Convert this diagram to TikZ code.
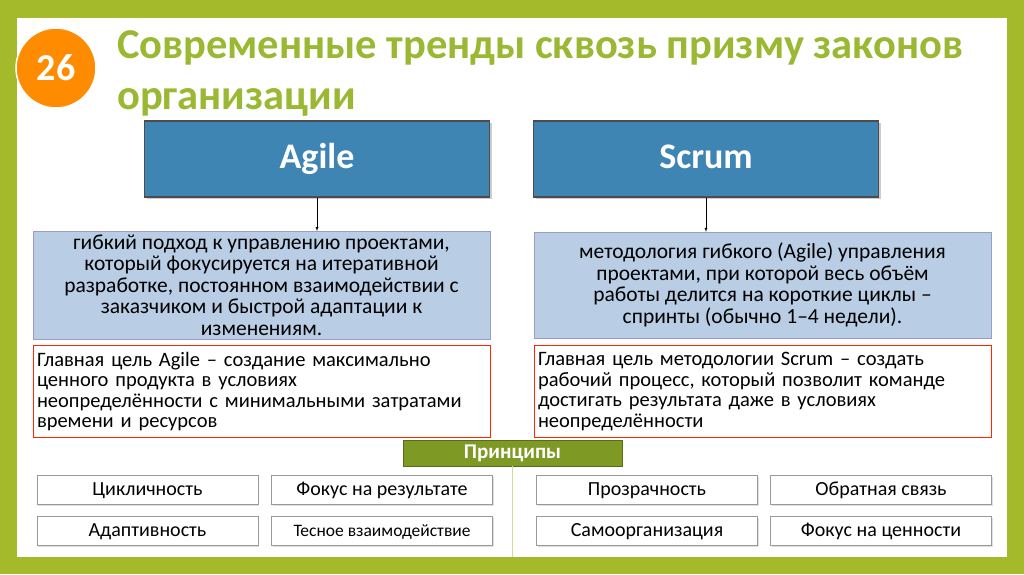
\documentclass[tikz,border=0pt]{standalone}
\usepackage{fontspec}
\setmainfont{Carlito}
\usetikzlibrary{shadows}
\definecolor{olive}{HTML}{A5BA2A}
\definecolor{titlegreen}{HTML}{9AB832}
\definecolor{dblue}{HTML}{3E85B4}
\definecolor{lblue}{HTML}{B9CDE5}
\definecolor{pbox}{HTML}{7E9A24}
\begin{document}
\begin{tikzpicture}[x=1pt,y=-1pt,
  head/.style={draw=black!70,fill=dblue,line width=1.2pt,minimum width=345pt,minimum height=76pt,text=white,font=\bfseries\fontsize{36}{40}\selectfont,text height=26pt,text depth=7pt,drop shadow={opacity=0.4}},
  desc/.style={draw=blue!30!gray!60,fill=lblue,minimum width=457pt,minimum height=106pt,align=center,font=\fontsize{21.5}{21.5}\selectfont},
  goal/.style={draw=red!70!orange,line width=0.8pt,fill=white,minimum width=457pt,minimum height=92pt,text width=449pt,inner xsep=4pt,align=left,font=\fontsize{20.5}{20.5}\selectfont},
  prin/.style={draw=gray!80,line width=0.8pt,fill=white,minimum width=221pt,minimum height=29pt,text height=14pt,text depth=4pt,font=\fontsize{20}{22}\selectfont,drop shadow={opacity=0.25,shadow xshift=1pt,shadow yshift=-1pt}}]
\useasboundingbox (0,0) rectangle (1024,574);
\fill[olive] (0,0) rectangle (1024,574);
\fill[white] (17,18) rectangle (1007,557);
\node[circle,fill=orange!90!yellow,draw=white,line width=1.5pt,minimum size=80pt,text=white,font=\bfseries\fontsize{38}{40}\selectfont] (num) at (56,68) {26};
\node[anchor=north west,align=left,text=titlegreen,font=\bfseries\fontsize{42.5}{51}\selectfont,inner sep=0pt] (title) at (117,30) {Современные тренды сквозь призму законов\\организации};
\node[head] (agile) at (317,159) {Agile};
\node[head] (scrum) at (706,159) {Scrum};
\node[desc] (d1) at (261.5,285) {гибкий подход к управлению проектами,\\который фокусируется на итеративной\\разработке, постоянном взаимодействии с\\заказчиком и быстрой адаптации к\\изменениям.};
\node[desc] (d2) at (762.5,285) {методология гибкого (Agile) управления\\проектами, при которой весь объём\\работы делится на короткие циклы –\\спринты (обычно 1–4 недели).};
\draw[-latex] (agile.south) -- (d1.north -| agile.south);
\draw[-latex] (scrum.south) -- (d2.north -| scrum.south);
\node[goal,anchor=north] (g1) at (261.5,345) {Главная цель Agile – создание максимально\\ценного продукта в условиях\\неопределённости с минимальными затратами\\времени и ресурсов};
\node[goal,anchor=north] (g2) at (762.5,345) {Главная цель методологии Scrum – создать\\рабочий процесс, который позволит команде\\достигать результата даже в условиях\\неопределённости};
\node[fill=pbox,draw=pbox!70!black,minimum width=219pt,minimum height=26pt,text=white,font=\bfseries\fontsize{21}{22}\selectfont,inner sep=0pt] (pr) at (512.5,453) {Принципы};
\coordinate (lineend) at (512,557);
\draw[titlegreen!50,line width=0.8pt] (pr.south -| lineend) -- (lineend);
\node[prin] (p1) at (147.5,490) {Цикличность};
\node[prin] (p2) at (382,490) {Фокус на результате};
\node[prin] (p3) at (647,490) {Прозрачность};
\node[prin] (p4) at (881,490) {Обратная связь};
\node[prin] (p5) at (147.5,531) {Адаптивность};
\node[prin] (p6) at (382,531) {\fontsize{17.5}{20}\selectfont Тесное взаимодействие};
\node[prin] (p7) at (647,531) {Самоорганизация};
\node[prin] (p8) at (881,531) {Фокус на ценности};
\end{tikzpicture}
\end{document}
